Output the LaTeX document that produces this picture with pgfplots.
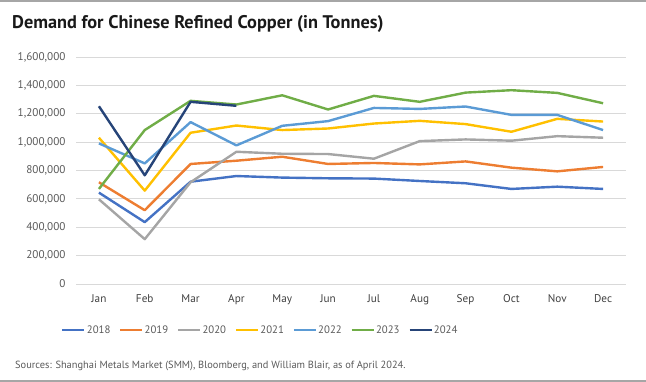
\documentclass[border=0pt]{standalone}
\usepackage{pgfplots}
\pgfplotsset{compat=1.18}
\usepackage{fontspec}
\setmainfont{PT Sans}
\definecolor{c18}{HTML}{4472C4}
\definecolor{c19}{HTML}{ED7D31}
\definecolor{c20}{HTML}{A5A5A5}
\definecolor{c21}{HTML}{FFC000}
\definecolor{c22}{HTML}{5B9BD5}
\definecolor{c23}{HTML}{70AD47}
\definecolor{c24}{HTML}{264478}
\definecolor{gridgray}{HTML}{D9D9D9}
\definecolor{txtgray}{HTML}{595959}
\definecolor{bordergray}{HTML}{A6A6A6}
\begin{document}
\begin{tikzpicture}[x=1pt,y=1pt]
\useasboundingbox (0,0) rectangle (646,382);
\draw[bordergray, line width=2pt] (0,381) -- (646,381);
\draw[bordergray, line width=2pt] (0,1) -- (646,1);
\node[anchor=base west, inner sep=0, font=\bfseries\fontsize{18.3}{22}\selectfont, text=black!90] at (12,353.5) {Demand for Chinese Refined Copper (in Tonnes)};
\node[anchor=base west, inner sep=0, font=\fontsize{10.4}{13}\selectfont, text=txtgray] at (15,13.5) {Sources: Shanghai Metals Market (SMM), Bloomberg, and William Blair, as of April 2024.};
\begin{axis}[
  at={(76pt,98pt)}, anchor=south west, scale only axis,
  width=550pt, height=227pt,
  xmin=-0.5, xmax=11.5, ymin=0, ymax=1600000,
  xtick={0,...,11},
  xticklabels={Jan,Feb,Mar,Apr,May,Jun,Jul,Aug,Sep,Oct,Nov,Dec},
  ytick={0,200000,400000,600000,800000,1000000,1200000,1400000,1600000},
  scaled y ticks=false,
  /pgf/number format/fixed,
  /pgf/number format/1000 sep={,},
  /pgf/number format/assume math mode=true,
  ymajorgrids, grid style={gridgray, line width=0.8pt},
  axis line style={draw=none},
  major tick length=0pt,
  tick label style={font=\fontsize{11.2}{13}\selectfont, text=txtgray},
  xticklabel style={yshift=-7pt, text=black!75},
  yticklabel style={xshift=-7pt},
  every axis plot/.append style={line width=2.4pt, no markers, line join=round},
  legend columns=7,
  legend style={at={(0.3345,-0.2026)}, anchor=center, draw=none, fill=none,
    font=\fontsize{10.8}{12}\selectfont, text=txtgray,
    nodes={inner sep=1.2pt},
    /tikz/every even column/.append style={column sep=7.5pt}},
  legend image code/.code={\draw[#1, line width=2.4pt] (0pt,0pt) -- (22pt,0pt);},
  clip=false,
]
\addplot[c18] coordinates {(0,644000)(1,436000)(2,721000)(3,761000)(4,750000)(5,745000)(6,743000)(7,726000)(8,710000)(9,670000)(10,686000)(11,670000)};
\addlegendentry{2018}
\addplot[c19] coordinates {(0,717000)(1,520000)(2,846000)(3,869000)(4,897000)(5,846000)(6,853000)(7,843000)(8,864000)(9,820000)(10,794000)(11,825000)};
\addlegendentry{2019}
\addplot[c20] coordinates {(0,597000)(1,316000)(2,717000)(3,932000)(4,918000)(5,916000)(6,883000)(7,1007000)(8,1019000)(9,1010000)(10,1042000)(11,1031000)};
\addlegendentry{2020}
\addplot[c21] coordinates {(0,1031000)(1,658000)(2,1066000)(3,1117000)(4,1085000)(5,1096000)(6,1131000)(7,1150000)(8,1127000)(9,1073000)(10,1164000)(11,1145000)};
\addlegendentry{2021}
\addplot[c22] coordinates {(0,991000)(1,850000)(2,1141000)(3,977000)(4,1115000)(5,1148000)(6,1241000)(7,1234000)(8,1251000)(9,1192000)(10,1192000)(11,1085000)};
\addlegendentry{2022}
\addplot[c23] coordinates {(0,670000)(1,1085000)(2,1291000)(3,1265000)(4,1330000)(5,1230000)(6,1326000)(7,1284000)(8,1349000)(9,1366000)(10,1347000)(11,1274000)};
\addlegendentry{2023}
\addplot[c24] coordinates {(0,1253000)(1,766000)(2,1284000)(3,1256000)};
\addlegendentry{2024}
\end{axis}
\end{tikzpicture}
\end{document}
